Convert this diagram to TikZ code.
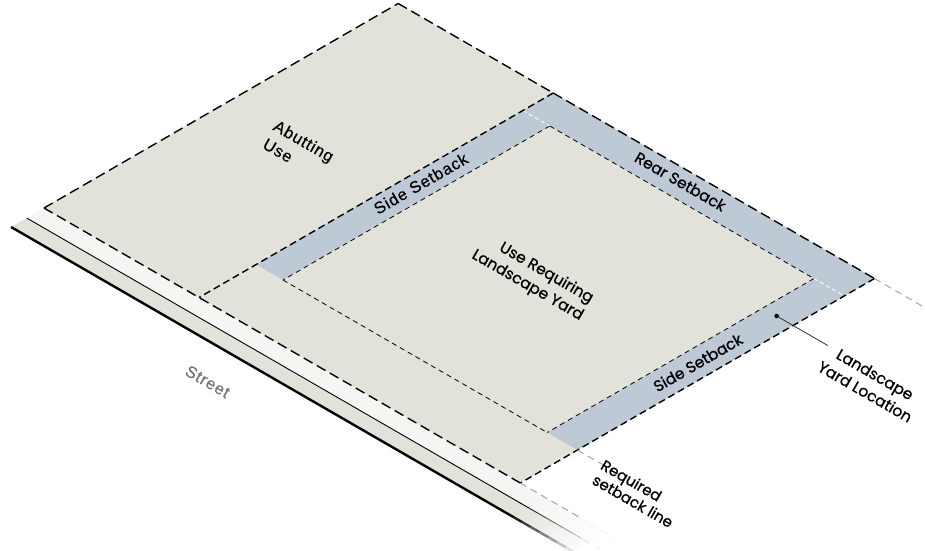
\documentclass[tikz,border=0pt]{standalone}
\usepackage{fontspec}
\setmainfont{Poppins}[FakeBold=0.8]
\newfontfamily\arialfont{Liberation Sans}[LetterSpace=5, FakeBold=0.4]
\definecolor{lotfill}{HTML}{E2E2DA}
\definecolor{yardfill}{HTML}{BDC9D5}
\definecolor{walkfill}{HTML}{F5F5F3}
\tikzset{
  lotline/.style={line width=1.4pt, dash pattern=on 10pt off 5pt},
  sideline/.style={line width=1.4pt, dash pattern=on 7pt off 4pt},
  setline/.style={line width=0.8pt, dash pattern=on 5pt off 4pt},
  whiteline/.style={white, line width=0.9pt, dash pattern=on 4pt off 3pt},
  extline/.style={gray!70, line width=1pt, dash pattern=on 7pt off 5pt},
  poplabel/.style={font=\fontsize{15.5}{20}\selectfont, inner sep=1pt},
  sanslabel/.style={font=\arialfont\fontsize{16.5}{21}\selectfont, inner sep=1pt}
}
\begin{document}
\begin{tikzpicture}[x=1pt,y=-1pt]
    \useasboundingbox (0,0) rectangle (925,550);
    \begin{scope}[shift={(44,208)},x={(0.866pt,-0.5pt)},y={(0.866pt,0.5pt)}]
        \coordinate (fl) at (0,0);
        \coordinate (bl) at (0,409);
        \coordinate (fd) at (179,0);
        \coordinate (bd) at (179,409);
        \coordinate (fr) at (550,0);
        \coordinate (br) at (550,409);

        \fill[walkfill] (0,-20) -- (660,-20) -- (660,0) -- (0,0) -- cycle;
        \fill[lotfill] (0,-38) -- (660,-38) -- (660,-20) -- (0,-20) -- cycle;
        \draw[line width=0.9pt] (0,-20) -- (660,-20);
        \draw[line width=2.4pt] (0,-38) -- (660,-38);
        \foreach \i in {1,...,8}
            \fill[white,opacity=\i/8] (570+10*\i,-44) -- (580+10*\i,-44) -- (580+10*\i,-1) -- (570+10*\i,-1) -- cycle;

        \fill[lotfill] (fl) -- (fr) -- (br) -- (bl) -- cycle;
        \fill[yardfill] (179,66) -- (550,66) -- (550,409) -- (179,409) -- cycle;
        \fill[lotfill] (210,66) -- (515,66) -- (515,374) -- (210,374) -- cycle;

        \draw[setline] (210,66) -- (515,66);
        \draw[setline] (210,374) -- (210,66);
        \draw[setline] (210,374) -- (515,374);
        \draw[setline] (515,374) -- (515,66);
        \draw[whiteline] (179,374) -- (210,374);
        \draw[whiteline] (515,374) -- (550,374);

        \draw[lotline] (fl) -- (bl);
        \draw[lotline] (bl) -- (bd);
        \draw[lotline] (bd) -- (br);
        \draw[lotline] (fl) -- (fr);
        \draw[sideline] (bd) -- (fd);
        \draw[sideline] (br) -- (fr);

        \draw[extline] (fr) -- (620,0);
        \draw[extline] (br) -- (610,409);
        \draw[extline] (550,66) -- (585,66);

        \node[circle, fill, inner sep=0pt, minimum size=4.5pt] (dot) at (531,315) {};
        \coordinate (lead) at (590,315);
        \draw[line width=0.8pt, black!80] (dot.center) -- (lead);

        \node[sanslabel, rotate=-30, align=left] (abut) at (89,205) {Abutting\\Use};
        \node[sanslabel, rotate=30] (lside) at (193,242) {Side Setback};
        \node[poplabel, rotate=-30] (rear) at (341,394) {Rear Setback};
        \node[poplabel, rotate=-30, align=right] (use) at (351,213) {Use Requiring\\Landscape Yard};
        \node[poplabel, rotate=30] (rside) at (532,223) {Side Setback};
        \node[poplabel, rotate=-30, align=center] (yard) at (652,302) {Landscape\\Yard Location};
        \node[poplabel, rotate=-30, align=left, font=\fontsize{15}{17}\selectfont] (req) at (628,57) {Required\\setback line};
        \node[sanslabel, rotate=-30, text=black!55] (street) at (268,-79) {Street};
    \end{scope}
\end{tikzpicture}
\end{document}
